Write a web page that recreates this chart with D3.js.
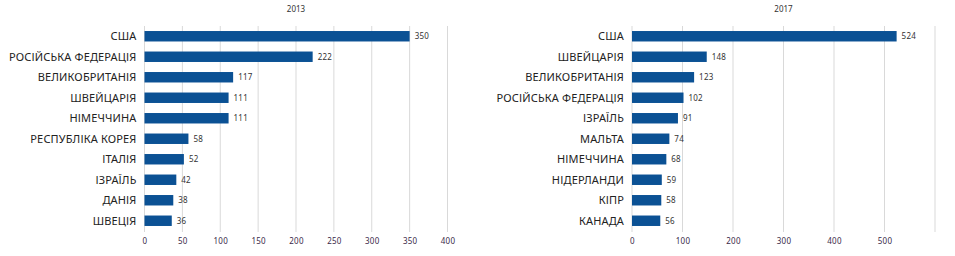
<!DOCTYPE html>
<html>
<head>
<meta charset="utf-8">
<script src="https://cdn.jsdelivr.net/npm/d3@7"></script>
<style>
  body { margin: 0; background: #fff; }
  svg { display: block; font-family: "Noto Sans", sans-serif; }
</style>
</head>
<body>
<svg id="chart" width="955" height="256"></svg>
<script>
// 2013
var countries2013 = ['США', 'РОСІЙСЬКА ФЕДЕРАЦІЯ', 'ВЕЛИКОБРИТАНІЯ', 'ШВЕЙЦАРІЯ', 'НІМЕЧЧИНА',
  'РЕСПУБЛІКА КОРЕЯ', 'ІТАЛІЯ', 'ІЗРАЇЛЬ', 'ДАНІЯ', 'ШВЕЦІЯ']
var values2013 = [350, 222, 117, 111, 111, 58, 52, 42, 38, 36]
var ticks2013 = [0, 50, 100, 150, 200, 250, 300, 350, 400]

// 2017
var countries2017 = ['США', 'ШВЕЙЦАРІЯ', 'ВЕЛИКОБРИТАНІЯ', 'РОСІЙСЬКА ФЕДЕРАЦІЯ', 'ІЗРАЇЛЬ',
  'МАЛЬТА', 'НІМЕЧЧИНА', 'НІДЕРЛАНДИ', 'КІПР', 'КАНАДА']
var values2017 = [524, 148, 123, 102, 91, 74, 68, 59, 58, 56]
var ticks2017 = [0, 100, 200, 300, 400, 500]
var grid2017 = [0, 100, 200, 300, 400, 500, 600]

var svg = d3.select('#chart')

function drawPanel(opts) {
  var g = svg.append('g')

  var x = d3.scaleLinear()
    .domain(opts.domain)
    .range([opts.x0, opts.x1])

  var y = d3.scaleBand()
    .domain(opts.cats)
    .range([26, 231])
    .paddingInner(0.49)
    .paddingOuter(0.245)

  // gridlines
  g.selectAll('line.grid')
    .data(opts.grid)
    .enter()
    .append('line')
    .attr('class', 'grid')
    .attr('x1', d => x(d)).attr('x2', d => x(d))
    .attr('y1', 26).attr('y2', 232)
    .attr('stroke', '#d9d9d9')
    .attr('stroke-width', 1)

  // title
  g.append('text')
    .attr('x', (opts.x0 + opts.x1) / 2)
    .attr('y', 12)
    .attr('text-anchor', 'middle')
    .attr('font-size', 8)
    .attr('fill', '#333')
    .text(opts.title)

  var data = opts.cats.map((c, i) => ({ c: c, v: opts.vals[i] }))

  g.selectAll('rect')
    .data(data)
    .enter()
    .append('rect')
    .attr('x', x(0))
    .attr('y', d => y(d.c))
    .attr('width', d => x(d.v) - x(0))
    .attr('height', y.bandwidth())
    .attr('fill', '#0b5194')

  // value labels
  g.selectAll('text.val')
    .data(data)
    .enter()
    .append('text')
    .attr('class', 'val')
    .attr('x', d => x(d.v) + 5)
    .attr('y', d => y(d.c) + y.bandwidth() / 2)
    .attr('dy', '0.35em')
    .attr('font-size', 8)
    .attr('letter-spacing', 0.2)
    .attr('fill', '#333')
    .text(d => d.v)

  // category labels
  g.selectAll('text.cat')
    .data(data)
    .enter()
    .append('text')
    .attr('class', 'cat')
    .attr('x', opts.x0 - 8)
    .attr('y', d => y(d.c) + y.bandwidth() / 2)
    .attr('dy', '0.36em')
    .attr('text-anchor', 'end')
    .attr('font-size', 11)
    .attr('letter-spacing', 0.15)
    .attr('fill', '#222')
    .text(d => d.c)

  // x axis
  var axis = g.append('g')
    .attr('transform', 'translate(0,232)')
    .call(d3.axisBottom(x).tickValues(opts.ticks).tickSize(0).tickPadding(6))
  axis.select('.domain').remove()
  axis.selectAll('text')
    .attr('font-family', '"Noto Sans", sans-serif')
    .attr('font-size', 8)
    .attr('letter-spacing', 0.2)
    .attr('fill', '#3a2a4a')
}

drawPanel({
  title: '2013', cats: countries2013, vals: values2013,
  domain: [0, 400], ticks: ticks2013, grid: ticks2013,
  x0: 144.5, x1: 447.5
})

drawPanel({
  title: '2017', cats: countries2017, vals: values2017,
  domain: [0, 600], ticks: ticks2017, grid: grid2017,
  x0: 632, x1: 935
})
</script>
</body>
</html>
